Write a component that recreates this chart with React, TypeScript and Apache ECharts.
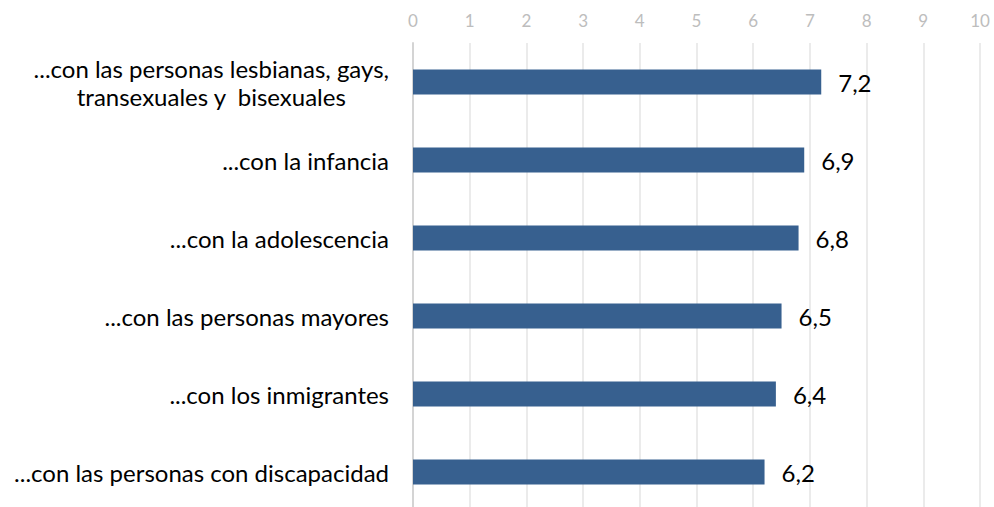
import React, { useEffect, useRef } from "react";
import * as echarts from "echarts";

const categories = [
  "...con las personas lesbianas, gays,\ntransexuales y  bisexuales",
  "...con la infancia",
  "...con la adolescencia",
  "...con las personas mayores",
  "...con los inmigrantes",
  "...con las personas con discapacidad",
];
const values = [7.2, 6.9, 6.8, 6.5, 6.4, 6.2];
const axisMin = 0;
const axisMax = 10;
const axisStep = 1;

export default function App() {
  const ref = useRef<HTMLDivElement>(null);
  useEffect(() => {
    if (!ref.current) return;
    const chart = echarts.init(ref.current, null, { renderer: "svg" });
    chart.setOption({
      animation: false,
      grid: { left: 413, right: 14, top: 43, height: 468, containLabel: false },
      xAxis: {
        type: "value",
        position: "top",
        min: axisMin,
        max: axisMax,
        interval: axisStep,
        axisLine: { show: false },
        axisTick: { show: false },
        axisLabel: {
          color: "#bdbdbd",
          fontFamily: "Lato",
          fontSize: 17,
          margin: 14,
        },
        splitLine: { show: true, lineStyle: { color: "#ebebeb", width: 2 } },
      },
      yAxis: {
        type: "category",
        data: categories,
        inverse: true,
        axisLine: { show: true, lineStyle: { color: "#d4d4d4", width: 2 } },
        axisTick: { show: false },
        axisLabel: {
          color: "#000",
          fontFamily: "Lato",
          fontSize: 24,
          lineHeight: 28,
          margin: 24,
          align: "right",
          formatter: (v: string) =>
            v
              .split("\n")
              .map((l) => `{c|${l}}`)
              .join("\n"),
          rich: {
            c: {
              color: "#000",
              fontFamily: "Lato",
              fontSize: 24,
              lineHeight: 28,
              align: "center",
            },
          },
        },
      },
      series: [
        {
          type: "bar",
          data: values,
          barWidth: 25,
          itemStyle: { color: "#37608f" },
          label: {
            show: true,
            position: "right",
            distance: 17,
            color: "#000",
            fontFamily: "Lato",
            fontSize: 24,
            formatter: (p: any) => String(p.value).replace(".", ","),
          },
        },
      ],
    });
    return () => chart.dispose();
  }, []);
  return (
    <div
      ref={ref}
      style={{ position: "fixed", left: 0, top: 0, width: 994, height: 520, background: "#fff" }}
    />
  );
}
